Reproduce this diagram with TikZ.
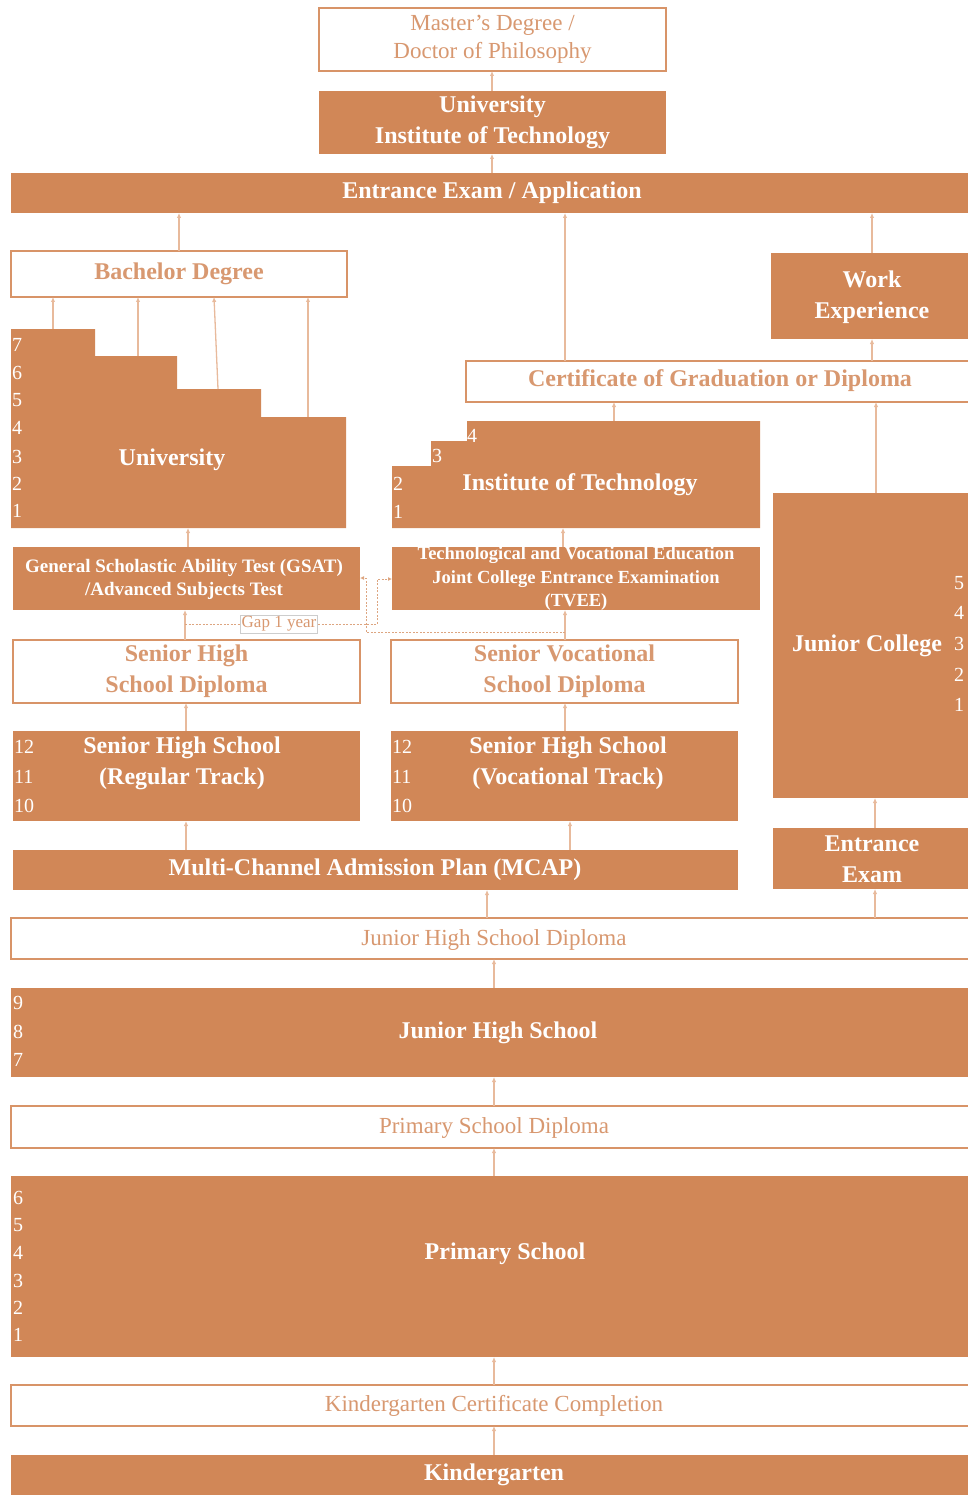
\documentclass[tikz,border=0pt]{standalone}
\usepackage{fontspec}
\setmainfont{Liberation Serif}
\usetikzlibrary{arrows.meta,calc}
\definecolor{orng}{RGB}{209,135,87}
\definecolor{lineor}{RGB}{216,148,104}
\definecolor{txtor}{RGB}{216,152,112}
\definecolor{arrc}{RGB}{232,186,156}
\definecolor{dashc}{RGB}{221,165,128}
\definecolor{gapgray}{RGB}{205,205,205}
\newcommand\fsz[2]{\fontsize{#1}{#2}\selectfont}
\newcommand\mkbox[7]{\node[#1, minimum width={(#5)-(#3)}, minimum height={(#6)-(#4)}] (#2) at ({((#3)+(#5))/2},{((#4)+(#6))/2}) {#7};}
\tikzset{
  fbox/.style={fill=orng, draw=none, text=white, inner sep=0pt, outer sep=0pt, align=center, font=\fsz{24}{31}\bfseries},
  obox/.style={fill=white, draw=lineor, line width=2pt, text=txtor, inner sep=0pt, outer sep=0pt, align=center, font=\fsz{24}{31}\bfseries},
  oreg/.style={obox, font=\fsz{23}{28}},
  lbl/.style={text=white, inner sep=0pt, align=center, font=\fsz{24}{31}\bfseries},
  num/.style={text=white, inner sep=0pt, anchor=west, font=\fsz{20}{22}},
  arr/.style={draw=arrc, line width=1.3pt, -{Latex[length=5pt,width=4.5pt]}},
  darr/.style={draw=dashc, line width=1pt, dash pattern=on 2pt off 1.5pt, -{Latex[length=4pt,width=4pt]}},
}
\begin{document}
\begin{tikzpicture}[x=1pt,y=-1pt]
\useasboundingbox (0,0) rectangle (967,1495);
% top
\mkbox{oreg}{mast}{319}{8}{666}{71}{Master's Degree /\\Doctor of Philosophy}
\mkbox{fbox}{uit}{319}{91}{666}{154}{University\\Institute of Technology}
\mkbox{fbox}{entr}{11}{173}{985}{213}{}
\node[lbl] (entrt) at (492,193) {Entrance Exam / Application};
\mkbox{obox}{bach}{11}{251}{347}{297}{Bachelor Degree}
\mkbox{fbox}{work}{771}{253}{985}{339}{}
\node[lbl] (workt) at (872,297) {Work\\Experience};
\mkbox{obox}{cert}{466}{361}{985}{402}{}
\node[lbl, text=txtor] (certt) at (720,381) {Certificate of Graduation or Diploma};
% university staircase
\fill[orng] (11,329) -| (95,356) -| (177,389) -| (261,417) -| (346,528) -- (11,528) -- cycle;
\node[lbl] (univ) at (172,460) {University};
\foreach \n/\y in {7/345,6/373,5/400,4/428,3/457,2/484,1/511}
  \node[num] (un\n) at (12,\y) {\n};
\coordinate (us1) at (53,329);
\coordinate (us2) at (138,356);
\coordinate (us3) at (218,389);
\coordinate (us4) at (308,417);
\coordinate (ubot) at (188,528);
% institute of technology staircase
\fill[orng] (467,421) -- (760,421) -- (760,528) -- (392,528) -- (392,466) -- (431,466) -- (431,441) -- (467,441) -- cycle;
\node[lbl] (itt) at (580,485) {Institute of Technology};
\node[num] (it4) at (467,436) {4};
\node[num] (it3) at (432,456) {3};
\node[num] (it2) at (393,484) {2};
\node[num] (it1) at (393,512) {1};
\coordinate (ittop) at (614,421);
\coordinate (itbot) at (563,528);
% junior college
\mkbox{fbox}{jc}{773}{493}{985}{798}{}
\node[lbl] (jct) at (867,646) {Junior College};
\foreach \n/\y in {5/583,4/613,3/644,2/675,1/705}
  \node[num] (jn\n) at (954,\y) {\n};
\mkbox{fbox}{ee}{773}{828}{985}{889}{}
\node[lbl] (eet) at (872,859) {Entrance\\Exam};
% exams
\mkbox{fbox}{gsat}{13}{547}{360}{610}{}
\node[lbl, font=\fsz{19}{23}\bfseries] (gsatt) at (184,579) {General Scholastic Ability Test (GSAT)\\/Advanced Subjects Test};
\mkbox{fbox}{tvee}{392}{547}{760}{610}{}
\node[lbl, font=\fsz{18.5}{23.5}\bfseries] (tveet) at (576,579) {Technological and Vocational Education\\Joint College Entrance Examination\\(TVEE)};
% diplomas
\mkbox{obox}{shd}{13}{640}{360}{703}{Senior High\\School Diploma}
\mkbox{obox}{svd}{391}{640}{738}{703}{Senior Vocational\\School Diploma}
% senior high schools
\mkbox{fbox}{shr}{13}{731}{360}{821}{}
\node[lbl] (shrt) at (182,763) {Senior High School\\(Regular Track)};
\mkbox{fbox}{shv}{391}{731}{738}{821}{}
\node[lbl] (shvt) at (568,763) {Senior High School\\(Vocational Track)};
\foreach \n/\y in {12/747,11/777,10/806} {
  \node[num] at (14,\y) {\n};
  \node[num] at (392,\y) {\n};
}
\mkbox{fbox}{mcap}{13}{850}{738}{890}{}
\node[lbl] (mcapt) at (375,870) {Multi-Channel Admission Plan (MCAP)};
% lower levels
\mkbox{oreg}{jhsd}{11}{918}{985}{959}{}
\node[text=txtor, font=\fsz{23}{28}, inner sep=0pt] (jhsdt) at (494,940) {Junior High School Diploma};
\mkbox{fbox}{jhs}{11}{988}{985}{1077}{}
\node[lbl] (jhst) at (498,1033) {Junior High School};
\foreach \n/\y in {9/1003,8/1032,7/1060}
  \node[num] at (13,\y) {\n};
\mkbox{oreg}{psd}{11}{1106}{985}{1148}{}
\node[text=txtor, font=\fsz{23}{28}, inner sep=0pt] (psdt) at (494,1128) {Primary School Diploma};
\mkbox{fbox}{ps}{11}{1176}{985}{1357}{}
\node[lbl] (pst) at (505,1254) {Primary School};
\foreach \n/\y in {6/1198,5/1225,4/1253,3/1281,2/1308,1/1335}
  \node[num] at (13,\y) {\n};
\mkbox{oreg}{kcc}{11}{1385}{985}{1426}{}
\node[text=txtor, font=\fsz{23}{28}, inner sep=0pt] (kcct) at (494,1406) {Kindergarten Certificate Completion};
\mkbox{fbox}{kg}{11}{1455}{985}{1500}{}
\node[lbl] (kgt) at (494,1475) {Kindergarten};
% arrows
\draw[arr] (uit.north -| 492,0) -- (mast.south -| 492,0);
\draw[arr] (entr.north -| 492,0) -- (uit.south -| 492,0);
\draw[arr] (bach.north -| 179,0) -- (entr.south -| 179,0);
\draw[arr] (cert.north -| 565,0) -- (entr.south -| 565,0);
\draw[arr] (work.north -| 872,0) -- (entr.south -| 872,0);
\draw[arr] (cert.north -| 872,0) -- (work.south -| 872,0);
\draw[arr] (jc.north -| 876,0) -- (cert.south -| 876,0);
\draw[arr] (ittop) -- (cert.south -| ittop);
\draw[arr] (us1) -- (bach.south -| us1);
\draw[arr] (us2) -- (bach.south -| us2);
\draw[arr] (us3) -- (bach.south -| 214,0);
\draw[arr] (us4) -- (bach.south -| us4);
\draw[arr] (gsat.north -| ubot) -- (ubot);
\draw[arr] (tvee.north -| itbot) -- (itbot);
\draw[arr] (shd.north -| 185,0) -- (gsat.south -| 185,0);
\draw[arr] (svd.north -| 565,0) -- (tvee.south -| 565,0);
\draw[arr] (shr.north -| 186,0) -- (shd.south -| 186,0);
\draw[arr] (shv.north -| 565,0) -- (svd.south -| 565,0);
\draw[arr] (mcap.north -| 186,0) -- (shr.south -| 186,0);
\draw[arr] (mcap.north -| 570,0) -- (shv.south -| 570,0);
\draw[arr] (jhsd.north -| 487,0) -- (mcap.south -| 487,0);
\draw[arr] (jhsd.north -| 875,0) -- (ee.south -| 875,0);
\draw[arr] (ee.north -| 875,0) -- (jc.south -| 875,0);
\draw[arr] (jhs.north -| 494,0) -- (jhsd.south -| 494,0);
\draw[arr] (psd.north -| 494,0) -- (jhs.south -| 494,0);
\draw[arr] (ps.north -| 494,0) -- (psd.south -| 494,0);
\draw[arr] (kcc.north -| 494,0) -- (ps.south -| 494,0);
\draw[arr] (kg.north -| 494,0) -- (kcc.south -| 494,0);
% gap-year dashed paths
\coordinate (gapA) at (185,624);
\coordinate (gapB) at (565,632);
\draw[darr] (gapA) -| (377,579) -- (tvee.west |- 0,579);
\draw[darr] (gapB) -| (366,578) -- (gsat.east |- 0,578);
\node[fill=white, draw=gapgray, line width=0.6pt, inner sep=1.5pt, text=txtor, font=\fsz{17}{20}] (gap) at (279,624) {Gap 1 year};
\end{tikzpicture}
\end{document}
